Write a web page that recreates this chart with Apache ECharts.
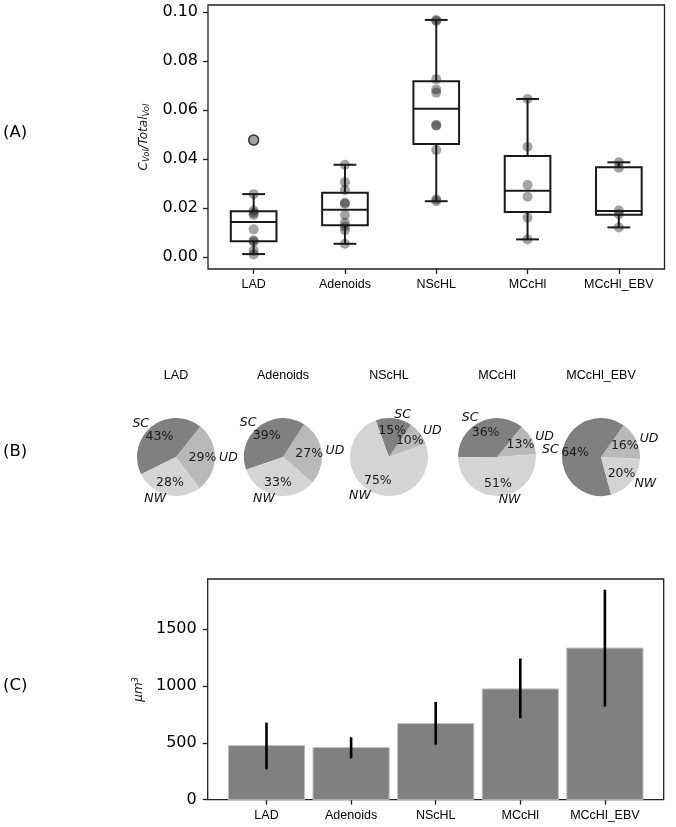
<!DOCTYPE html>
<html>
<head>
<meta charset="utf-8">
<script src="https://cdn.jsdelivr.net/npm/echarts@6.0.0/dist/echarts.min.js"></script>
<style>
html,body{margin:0;padding:0;background:#fff;}
#chart{width:676px;height:827px;}
</style>
</head>
<body>
<div id="chart"></div>
<script>
// ---------- data ----------
const categories = ['LAD', 'Adenoids', 'NScHL', 'MCcHl', 'MCcHl_EBV'];

// Panel A: box statistics
const boxLow    = [0.0012, 0.0054, 0.0228, 0.0072, 0.0121];
const boxQ1     = [0.0064, 0.0130, 0.0462, 0.0184, 0.0173];
const boxMedian = [0.0143, 0.0193, 0.0606, 0.0271, 0.0188];
const boxQ3     = [0.0187, 0.0263, 0.0718, 0.0413, 0.0367];
const boxHigh   = [0.0257, 0.0377, 0.0969, 0.0646, 0.0387];
const outliers  = [[0, 0.0478]];

// Panel A: individual points per group
const pointsLAD      = [0.0478, 0.0257, 0.0190, 0.0180, 0.0172, 0.0113, 0.0068, 0.0062, 0.0026, 0.0010];
const pointsAdenoids = [0.0377, 0.0306, 0.0274, 0.0222, 0.0218, 0.0172, 0.0140, 0.0125, 0.0110, 0.0054];
const pointsNScHL    = [0.0969, 0.0965, 0.0727, 0.0685, 0.0672, 0.0540, 0.0537, 0.0437, 0.0236, 0.0228];
const pointsMCcHl    = [0.0646, 0.0451, 0.0294, 0.0246, 0.0161, 0.0072];
const pointsEBV      = [0.0387, 0.0365, 0.0190, 0.0175, 0.0121];
const allPoints = [pointsLAD, pointsAdenoids, pointsNScHL, pointsMCcHl, pointsEBV];

// Panel A ticks
const yTicksA = [0, 0.02, 0.04, 0.06, 0.08, 0.10];

// Panel B: pie percentages
const pieNames = ['UD', 'SC', 'NW'];
const pieUD = [29, 27, 10, 13, 16];
const pieSC = [43, 39, 15, 36, 64];
const pieNW = [28, 33, 75, 51, 20];

// Panel C: bar means and error bar ends
const barMean    = [475, 458, 669, 974, 1333];
const barErrLow  = [268, 364, 484, 716, 819];
const barErrHigh = [678, 549, 860, 1241, 1846];
const yTicksC = [0, 500, 1000, 1500];

// ---------- layout / style ----------
const pieCentersX = [176, 283, 389, 497, 601];
const pieCenterY = 457;
const pieR = 39;
const pieStart = [307, 319, 20, 4, 357];
const pieColors = {UD: '#b9b9b9', SC: '#808080', NW: '#d4d4d4'};
const catIdx = [0, 1, 2, 3, 4];
const axisColor = '#222';
const FONT_D = 'DejaVu Sans';
const FONT_L = 'Liberation Sans';

const chart = echarts.init(document.getElementById('chart'), null, {renderer: 'canvas'});

const scatterData = [];
allPoints.forEach((arr, i) => arr.forEach(v => scatterData.push([i, v])));
const boxData = catIdx.map(i => [i, boxLow[i], boxQ1[i], boxMedian[i], boxQ3[i], boxHigh[i]]);

const pieSeries = [];
catIdx.forEach(i => {
  const vals = {UD: pieUD[i], SC: pieSC[i], NW: pieNW[i]};
  const data = pieNames.map(n => ({name: n, value: vals[n], itemStyle: {color: pieColors[n]}}));
  pieSeries.push({
    type: 'pie', center: [pieCentersX[i], pieCenterY], radius: pieR,
    startAngle: pieStart[i], clockwise: false, silent: true, animation: false,
    avoidLabelOverlap: false, emphasis: {disabled: true},
    labelLayout: {hideOverlap: false, moveOverlap: null},
    itemStyle: {borderWidth: 0},
    label: {show: true, position: 'outside', formatter: '{b}', fontFamily: FONT_D,
            fontStyle: 'italic', fontSize: 12.5, color: '#111', distanceToLabelLine: 0,
            bleedMargin: 0},
    labelLine: {show: false, length: 4, length2: 0},
    data: data
  });
  pieSeries.push({
    type: 'pie', center: [pieCentersX[i], pieCenterY], radius: pieR * 1.2,
    startAngle: pieStart[i], clockwise: false, silent: true, animation: false,
    avoidLabelOverlap: false, emphasis: {disabled: true},
    labelLayout: {hideOverlap: false, moveOverlap: null},
    itemStyle: {color: 'rgba(0,0,0,0)', borderWidth: 0},
    label: {show: true, position: 'inside', formatter: p => p.value + '%',
            fontFamily: FONT_D, fontSize: 12.5, color: '#1a1a1a'},
    labelLine: {show: false},
    data: pieNames.map(n => ({name: n, value: vals[n], itemStyle: {color: 'rgba(0,0,0,0)'}}))
  });
});

const graphics = [
  {type: 'text', x: 3, y: 133, style: {text: '(A)', font: '16.5px "DejaVu Sans"', fill: '#000', textVerticalAlign: 'middle'}},
  {type: 'text', x: 3, y: 452, style: {text: '(B)', font: '16.5px "DejaVu Sans"', fill: '#000', textVerticalAlign: 'middle'}},
  {type: 'text', x: 3, y: 686, style: {text: '(C)', font: '16.5px "DejaVu Sans"', fill: '#000', textVerticalAlign: 'middle'}}
];
catIdx.forEach(i => graphics.push({
  type: 'text', x: pieCentersX[i], y: 376,
  style: {text: categories[i], font: '12.5px "Liberation Sans"', fill: '#000', textAlign: 'center', textVerticalAlign: 'middle'}
}));

const option = {
  backgroundColor: '#fff',
  animation: false,
  graphic: graphics,
  grid: [
    {left: 208, top: 5, width: 456.5, height: 264, show: true, borderColor: axisColor, borderWidth: 1.3, backgroundColor: 'transparent'},
    {left: 207.7, top: 579, width: 456, height: 220.7, show: true, borderColor: axisColor, borderWidth: 1.3, backgroundColor: 'transparent'}
  ],
  xAxis: [
    {gridIndex: 0, type: 'value', min: -0.5, max: 4.5, position: 'bottom',
     axisLine: {show: false, onZero: false}, splitLine: {show: false},
     axisTick: {show: true, customValues: catIdx, length: 5, lineStyle: {color: axisColor, width: 1.3}},
     axisLabel: {customValues: catIdx, formatter: v => categories[v], margin: 9,
                 fontFamily: FONT_L, fontSize: 12.5, color: '#000'}},
    {gridIndex: 1, type: 'value', min: -0.695, max: 4.695, position: 'bottom',
     axisLine: {show: false, onZero: false}, splitLine: {show: false},
     axisTick: {show: true, customValues: catIdx, length: 5, lineStyle: {color: axisColor, width: 1.3}},
     axisLabel: {customValues: catIdx, formatter: v => categories[v], margin: 9,
                 fontFamily: FONT_L, fontSize: 12.5, color: '#000'}}
  ],
  yAxis: [
    {gridIndex: 0, type: 'value', min: -0.0049, max: 0.103, position: 'left',
     axisLine: {show: false, onZero: false}, splitLine: {show: false},
     axisTick: {show: true, customValues: yTicksA, length: 5, lineStyle: {color: axisColor, width: 1.3}},
     axisLabel: {customValues: yTicksA, formatter: v => v.toFixed(2), margin: 10,
                 fontFamily: FONT_D, fontSize: 16, color: '#000'},
     name: '{i|C}{s|Vol}{i|/Total}{s|Vol}', nameLocation: 'middle', nameGap: 50, nameRotate: 90,
     nameTextStyle: {rich: {
       i: {fontFamily: FONT_D, fontStyle: 'italic', fontSize: 12, color: '#111', lineHeight: 16, verticalAlign: 'middle'},
       s: {fontFamily: FONT_D, fontStyle: 'italic', fontSize: 8.5, color: '#111', lineHeight: 9, verticalAlign: 'bottom'}
     }}},
    {gridIndex: 1, type: 'value', min: 0, max: 1940, position: 'left',
     axisLine: {show: false, onZero: false}, splitLine: {show: false},
     axisTick: {show: true, customValues: yTicksC, length: 5, lineStyle: {color: axisColor, width: 1.3}},
     axisLabel: {customValues: yTicksC, formatter: v => String(v), margin: 11, fontFamily: FONT_D, fontSize: 16, color: '#000'},
     name: '{i|μm}{p|3}', nameLocation: 'middle', nameGap: 58, nameRotate: 90,
     nameTextStyle: {rich: {
       i: {fontFamily: FONT_D, fontStyle: 'italic', fontSize: 12, color: '#111', lineHeight: 16, verticalAlign: 'middle'},
       p: {fontFamily: FONT_D, fontStyle: 'italic', fontSize: 8.5, color: '#111', lineHeight: 9, verticalAlign: 'top'}
     }}}
  ],
  series: [
    {type: 'scatter', xAxisIndex: 0, yAxisIndex: 0, data: scatterData, symbol: 'circle', symbolSize: 10,
     itemStyle: {color: 'rgba(0,0,0,0.45)'}, silent: true, z: 2},
    {type: 'scatter', xAxisIndex: 0, yAxisIndex: 0, data: outliers, symbol: 'circle', symbolSize: 10,
     itemStyle: {color: 'rgba(0,0,0,0)', borderColor: '#111', borderWidth: 1.6}, silent: true, z: 4},
    {type: 'custom', xAxisIndex: 0, yAxisIndex: 0, data: boxData, silent: true, z: 3,
     encode: {x: 0, y: [1, 2, 3, 4, 5]},
     renderItem: function (params, api) {
       const i = api.value(0);
       const lo = api.coord([i, api.value(1)]);
       const q1L = api.coord([i - 0.25, api.value(2)]);
       const mdL = api.coord([i - 0.25, api.value(3)]);
       const mdR = api.coord([i + 0.25, api.value(3)]);
       const q3L = api.coord([i - 0.25, api.value(4)]);
       const q3R = api.coord([i + 0.25, api.value(4)]);
       const hi = api.coord([i, api.value(5)]);
       const cLo = api.coord([i - 0.125, api.value(1)]);
       const cLo2 = api.coord([i + 0.125, api.value(1)]);
       const cHi = api.coord([i - 0.125, api.value(5)]);
       const cHi2 = api.coord([i + 0.125, api.value(5)]);
       const st = {stroke: '#1a1a1a', lineWidth: 2, fill: null};
       return {type: 'group', children: [
         {type: 'rect', shape: {x: q3L[0], y: q3L[1], width: q3R[0] - q3L[0], height: q1L[1] - q3L[1]}, style: st},
         {type: 'line', shape: {x1: mdL[0], y1: mdL[1], x2: mdR[0], y2: mdR[1]}, style: st},
         {type: 'line', shape: {x1: lo[0], y1: lo[1], x2: lo[0], y2: q1L[1]}, style: st},
         {type: 'line', shape: {x1: hi[0], y1: hi[1], x2: hi[0], y2: q3L[1]}, style: st},
         {type: 'line', shape: {x1: cLo[0], y1: cLo[1], x2: cLo2[0], y2: cLo2[1]}, style: st},
         {type: 'line', shape: {x1: cHi[0], y1: cHi[1], x2: cHi2[0], y2: cHi2[1]}, style: st}
       ]};
     }},
    {type: 'custom', xAxisIndex: 1, yAxisIndex: 1, silent: true, z: 2,
     data: catIdx.map(i => [i, barMean[i]]), encode: {x: 0, y: 1},
     renderItem: function (params, api) {
       const i = api.value(0);
       const tl = api.coord([i - 0.45, api.value(1)]);
       const br = api.coord([i + 0.45, 0]);
       return {type: 'rect', shape: {x: tl[0], y: tl[1], width: br[0] - tl[0], height: br[1] - tl[1]},
               style: {fill: '#808080', stroke: '#bdbdbd', lineWidth: 1}};
     }},
    {type: 'custom', xAxisIndex: 1, yAxisIndex: 1, silent: true, z: 3,
     data: catIdx.map(i => [i, barErrLow[i], barErrHigh[i]]), encode: {x: 0, y: [1, 2]},
     renderItem: function (params, api) {
       const i = api.value(0);
       const a = api.coord([i, api.value(1)]);
       const b = api.coord([i, api.value(2)]);
       return {type: 'line', shape: {x1: a[0], y1: a[1], x2: b[0], y2: b[1]},
               style: {stroke: '#000', lineWidth: 2.6}};
     }}
  ].concat(pieSeries)
};
chart.setOption(option);
</script>
</body>
</html>
